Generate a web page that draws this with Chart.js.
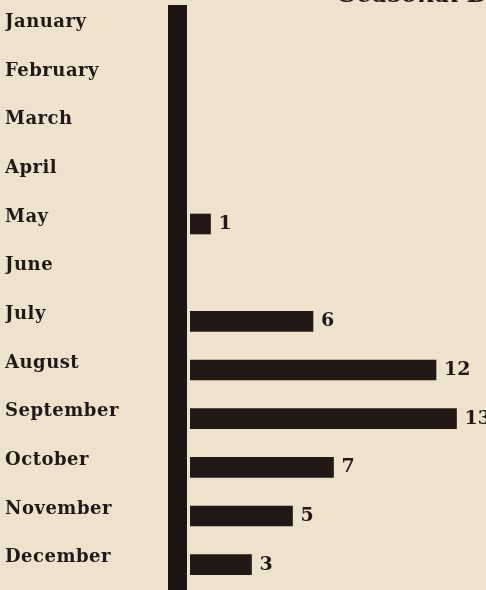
<!DOCTYPE html>
<html>
<head>
<meta charset="utf-8">
<script src="https://cdn.jsdelivr.net/npm/chart.js@4/dist/chart.umd.min.js"></script>
<style>
  html, body { margin: 0; padding: 0; background: #eee2cd; }
  #wrap { width: 486px; height: 590px; position: relative; }
</style>
</head>
<body>
<div id="wrap"><canvas id="seasonChart"></canvas></div>
<script>
// Meses y número de casos por mes
const months = ['January', 'February', 'March', 'April', 'May', 'June',
    'July', 'August', 'September', 'October', 'November', 'December'];
const cases = [0, 0, 0, 0, 1, 0, 6, 12, 13, 7, 5, 3];
const titleText = 'Seasonal Distribution';

const ink = '#221916';
const serif = "'DejaVu Serif', 'Liberation Serif', serif";

// Barra gruesa del eje y números al final de cada barra
const decoPlugin = {
    id: 'deco',
    beforeDraw(chart) {
        // letras un poco espaciadas en las etiquetas de los meses
        chart.ctx.letterSpacing = '0.5px';
    },
    beforeDatasetsDraw(chart) {
        const { ctx, chartArea } = chart;
        ctx.save();
        ctx.fillStyle = '#1d1513';
        ctx.fillRect(chartArea.left - 22, chartArea.top, 19, chartArea.bottom - chartArea.top + 2);
        ctx.restore();
    },
    afterDatasetsDraw(chart) {
        const { ctx } = chart;
        const meta = chart.getDatasetMeta(0);
        ctx.save();
        ctx.letterSpacing = '0px';
        ctx.fillStyle = ink;
        ctx.font = 'bold 19px ' + serif;
        ctx.textBaseline = 'middle';
        ctx.textAlign = 'left';
        meta.data.forEach((bar, i) => {
            if (!cases[i]) return;
            ctx.fillText(String(cases[i]), bar.x + 8, bar.y);
        });
        // título cortado arriba a la derecha
        ctx.font = 'italic bold 24px ' + serif;
        ctx.textBaseline = 'alphabetic';
        ctx.fillText(titleText, 340, 2);
        ctx.restore();
    },
    afterDraw(chart) {
        chart.ctx.letterSpacing = '0px';
    }
};

const ctx = document.getElementById('seasonChart').getContext('2d');
const seasonChart = new Chart(ctx, {
    type: 'bar',
    data: {
        labels: months,
        datasets: [{
            data: cases,
            backgroundColor: (c) => (cases[c.dataIndex] ? ink : 'rgba(0,0,0,0)'),
            barThickness: 20,
            borderWidth: 0
        }]
    },
    options: {
        indexAxis: 'y',
        responsive: true,
        maintainAspectRatio: false,
        animation: false,
        layout: { padding: { left: 5, top: 5, right: 9, bottom: 1 } },
        plugins: {
            legend: { display: false },
            tooltip: { enabled: false }
        },
        scales: {
            x: {
                display: false,
                min: 0,
                max: 14
            },
            y: {
                grid: { display: false, drawTicks: false },
                border: { display: false },
                afterFit(scale) {
                    scale.width = 185;
                    scale.paddingTop = 0;
                    scale.paddingBottom = 0;
                },
                ticks: {
                    crossAlign: 'far',
                    labelOffset: -7,
                    color: ink,
                    font: { family: serif, weight: 'bold', size: 18 }
                }
            }
        }
    },
    plugins: [decoPlugin]
});
</script>
</body>
</html>
